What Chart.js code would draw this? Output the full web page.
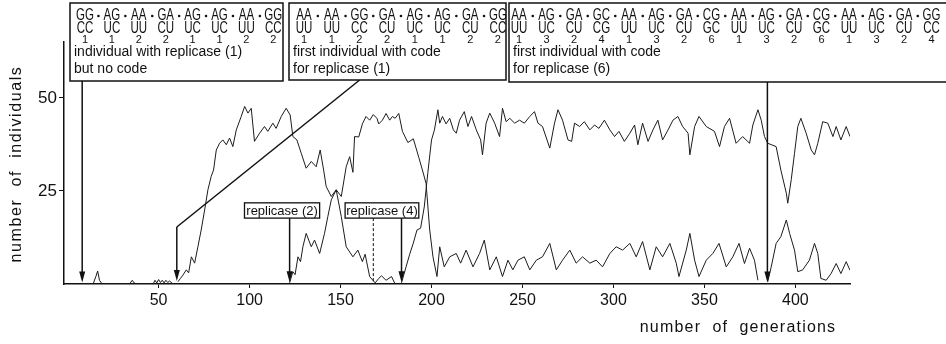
<!DOCTYPE html>
<html>
<head>
<meta charset="utf-8">
<title>Replicase code evolution</title>
<script src="https://cdn.jsdelivr.net/npm/chart.js@4.4.0/dist/chart.umd.min.js"></script>
<style>
  body { margin: 0; background: #fff; }
  #wrap { width: 946px; height: 344px; }
</style>
</head>
<body>
<div id="wrap"><canvas id="evo"></canvas></div>
<script>
// tick labels
const xTicks = [50, 100, 150, 200, 250, 300, 350, 400];
const yTicks = [25, 50];

// early blips: individual with replicase (1) but no code
const gen0 = [8, 14, 15.5, 16.5, 17.5, 19, 34, 35.5, 36.5, 38, 47, 48, 49, 50, 51, 52, 53, 54, 55, 56, 58, 60];
const val0 = [0, 0, 2, 3.5, 1, 0, 0, 1, 0.3, 0, 0, 1, 0.3, 1.2, 0.4, 1, 0.3, 1, 0.4, 0.8, 0, 0];

// first code for replicase (1)
const gen1 = [60.6, 62, 63.4, 65.2, 66.5, 68, 69.8, 71.6, 73.4, 75.3, 77.1, 78.9, 80.2, 81.7, 83.5, 85.3, 87.2, 89, 90.8, 92.7,
  95.4, 97.3, 99.1, 100.9, 102.7, 105.5, 108.2, 110, 112.8, 114.6, 117.4, 120.1, 122.3, 123.8, 126, 128.4, 131.1, 133.9, 136.6, 138.8,
  140.7, 142.1, 144.9, 147.6, 150.4, 153.1, 156.8, 159.5, 162, 163.5, 166, 169, 171, 172.5, 175, 178, 180];
const val1 = [0.6, 1.5, 2.4, 3.8, 3, 7.3, 5.6, 10, 14.5, 19.9, 25.3, 28.9, 30.6, 36, 37.8, 38.7, 37.4, 39.2, 36.9, 41.4,
  45, 47.7, 45.9, 47.2, 38.3, 40.5, 42.3, 41, 43.2, 41.8, 45, 47.2, 45.4, 39.6, 38.7, 35.1, 31.1, 32.9, 31.5, 36,
  30.6, 26.2, 23.5, 25.3, 18.1, 10, 7.3, 9.1, 6, 8, 2, 0.3, 1.5, 2.2, 1, 2, 0];

// replicase (2)
const gen2 = [122, 123.8, 125, 126.6, 128, 129.3, 131.1, 133.9, 135.7, 138.5, 141.2, 143, 144.9, 147.6, 150.4, 153.1, 155, 156.8, 157.7, 160,
  162, 164, 166, 168, 170, 171, 173, 175, 177, 178.5, 180, 182, 184, 187, 190, 193, 195, 197, 199, 200.8,
  203, 204.5, 207, 210, 213.6, 216, 219, 222.8, 226.4, 229, 232, 235.6, 239, 242, 244.7, 247.5, 251, 254, 257.6, 261,
  265, 268.6, 272, 276, 279.5, 283, 287, 290.5, 294, 298, 301.5, 305, 309, 312.5, 316, 320, 323.5, 327, 331, 334.5,
  336, 340, 342, 344.6, 347, 351, 354.6, 358, 362, 365.6, 369, 372, 374.8, 377.5, 379.4];
const val2 = [0.3, 3.3, 2.5, 7.3, 6, 10, 13.6, 10, 11.8, 8.2, 13.6, 18.1, 22.6, 25.3, 23.5, 31.5, 34.2, 30, 39.6, 39.5,
  43, 45, 44, 45.5, 44.5, 43, 44, 45.8, 44, 45, 44.5, 45.8, 41, 38, 39, 34, 30.6, 27, 14.5, 7.3,
  2, 10, 4.6, 7.3, 8.2, 5.6, 9.1, 4.6, 8.2, 11.8, 3.8, 7.3, 2, 6.4, 3.8, 6.4, 7.3, 3.8, 6.4, 7.3,
  10.9, 3.8, 6.4, 9.1, 5.6, 7.3, 5.6, 6.4, 4.6, 8.2, 10, 9.1, 10.9, 7.3, 11.4, 3.8, 10, 7.3, 10.9, 5.6,
  2, 9.1, 13.6, 6.4, 2, 6.4, 8.2, 10.9, 4.6, 7.3, 10.9, 5.5, 9.6, 6.4, 1];

// replicase (4)
const gen4 = [183.5, 186, 188, 190, 192, 194, 196, 198, 200, 201.6, 203.5, 204.5, 206, 208, 210, 212, 213.6, 215.4, 218, 220,
  222, 224.6, 227, 228, 230, 232, 234.7, 237.4, 239, 241, 243, 245.7, 248.4, 251, 254, 256.6, 258.5, 261, 265, 267.6,
  269.5, 272, 275, 277, 278.6, 281.4, 284, 287, 289.6, 292, 295, 298, 300.6, 303, 306, 309, 311.6, 313.4, 316, 319,
  321.7, 324.4, 327, 330, 332.7, 335.4, 338, 341, 342, 344.6, 347, 351, 355.5, 358.3, 361, 363.8, 367.4, 371, 374.8, 376.6,
  379.4, 381.2, 383, 384.8, 389.4, 392, 395, 395.8, 397.7, 399.5, 401.3, 403, 405.9, 408.7, 410.5, 412.3, 415, 417.8, 420.6, 422.4,
  425, 427.9, 430];
const val4 = [0.3, 4.6, 8, 11, 14.5, 15, 20.7, 30, 38.7, 41.4, 46.8, 43.2, 45, 43, 44.5, 41.4, 40.5, 44, 46.3, 42.3,
  45, 41.4, 38.7, 34.7, 43.2, 45.9, 43.2, 39.6, 47.2, 43.6, 44.5, 43.2, 44, 43.2, 45, 46.3, 43.2, 42.3, 36.5, 43.2,
  46.8, 44, 38.7, 38.3, 43.2, 42.3, 43.6, 41.4, 42.7, 41.8, 44, 41.4, 39.6, 41, 38.3, 40.5, 42.7, 37.4, 43.2, 38.3,
  41.4, 44, 38.7, 41.4, 44, 45, 42.3, 40.5, 34.7, 42.3, 45, 42.3, 41, 36.9, 42.3, 44.5, 37.8, 39.6, 37.8, 42.7,
  46.8, 44, 39.6, 37.8, 36.9, 30.6, 24.4, 21.7, 28, 35.1, 42.3, 44.5, 40.5, 36, 34.7, 37.8, 43.6, 43.2, 39.6, 42.3,
  38.7, 42.3, 39.6];

// replicase (6)
const gen6 = [384.8, 386.7, 389.4, 392, 395, 396.8, 399.5, 401.3, 404, 407.7, 410.5, 412.3, 414, 416.9, 419.6, 422.4, 425, 427.9, 430];
const val6 = [0.6, 4.6, 10.9, 12.7, 17.2, 13.6, 9.1, 3.3, 3.8, 6.4, 10.9, 8.2, 1.5, 1, 2.8, 5.5, 2.8, 6, 3.7];

// code boxes
const box1Top = ['GG', 'AG', 'AA', 'GA', 'AG', 'AG', 'AA', 'GG'];
const box1Mid = ['CC', 'UC', 'UU', 'CU', 'UC', 'UC', 'UU', 'CC'];
const box1Num = ['1', '1', '2', '2', '1', '1', '2', '2'];
const box1Text = ['individual with replicase (1)', 'but no code'];
const box2Top = ['AA', 'AA', 'GG', 'GA', 'AG', 'AG', 'GA', 'GG'];
const box2Mid = ['UU', 'UU', 'CC', 'CU', 'UC', 'UC', 'CU', 'CC'];
const box2Num = ['1', '1', '2', '2', '1', '1', '2', '2'];
const box2Text = ['first individual with code', 'for replicase (1)'];
const box3Top = ['AA', 'AG', 'GA', 'GC', 'AA', 'AG', 'GA', 'CG', 'AA', 'AG', 'GA', 'CG', 'AA', 'AG', 'GA', 'GG'];
const box3Mid = ['UU', 'UC', 'CU', 'CG', 'UU', 'UC', 'CU', 'GC', 'UU', 'UC', 'CU', 'GC', 'UU', 'UC', 'CU', 'CC'];
const box3Num = ['1', '3', '2', '4', '1', '3', '2', '6', '1', '3', '2', '6', '1', '3', '2', '4'];
const box3Text = ['first individual with code', 'for replicase (6)'];

// generations where the arrows point
const markNoCode = 8;
const markCode1 = 60;
const markRep2 = 122;
const markDashed = 168;
const markRep4 = 183.5;
const markCode6 = 384.6;

const FONT = '"Liberation Sans", Arial, sans-serif';
const INK = '#111';

function pts(g, v) {
  return g.map((x, i) => ({ x: x, y: v[i] }));
}

function line(data) {
  return { data: data, borderColor: '#1c1c1c', borderWidth: 1, pointRadius: 0, tension: 0, fill: false };
}

function condensed(ctx, text, x, y, sx) {
  ctx.save();
  ctx.translate(x, y);
  ctx.scale(sx, 1);
  ctx.fillText(text, 0, 0);
  ctx.restore();
}

function codeBox(ctx, b, top, mid, num, text) {
  ctx.fillStyle = '#fff';
  ctx.fillRect(b.left, b.top, b.right - b.left, b.bottom - b.top);
  ctx.strokeStyle = INK;
  ctx.lineWidth = 1.5;
  ctx.strokeRect(b.left, b.top, b.right - b.left, b.bottom - b.top);
  ctx.fillStyle = INK;
  ctx.textAlign = 'center';
  ctx.textBaseline = 'middle';
  top.forEach((p, i) => {
    const cx = b.col0 + i * b.step;
    ctx.font = '16px ' + FONT;
    condensed(ctx, p, cx, 16, 0.72);
    condensed(ctx, mid[i], cx, 29, 0.72);
    ctx.font = '11px ' + FONT;
    ctx.fillText(num[i], cx, 40);
    if (i < top.length - 1) {
      ctx.beginPath();
      ctx.arc(cx + b.step / 2, 16, 1.3, 0, Math.PI * 2);
      ctx.fill();
    }
  });
  ctx.textAlign = 'left';
  ctx.font = '14px ' + FONT;
  ctx.fillText(text[0], b.left + 4, 52);
  ctx.fillText(text[1], b.left + 4, 69);
}

function arrow(ctx, x, y0, y1) {
  ctx.beginPath();
  ctx.moveTo(x, y0);
  ctx.lineTo(x, y1 - 8);
  ctx.stroke();
  ctx.beginPath();
  ctx.moveTo(x, y1);
  ctx.lineTo(x - 3, y1 - 11);
  ctx.lineTo(x + 3, y1 - 11);
  ctx.closePath();
  ctx.fill();
}

function labelBox(ctx, text, x0, x1, y0, y1) {
  ctx.fillStyle = '#fff';
  ctx.fillRect(x0, y0, x1 - x0, y1 - y0);
  ctx.strokeStyle = INK;
  ctx.lineWidth = 1.3;
  ctx.strokeRect(x0, y0, x1 - x0, y1 - y0);
  ctx.fillStyle = INK;
  ctx.font = '13px ' + FONT;
  ctx.textAlign = 'center';
  ctx.textBaseline = 'middle';
  ctx.fillText(text, (x0 + x1) / 2, (y0 + y1) / 2 + 1);
}

const notes = {
  id: 'notes',
  afterDraw(chart) {
    const ctx = chart.ctx;
    const sx = chart.scales.x, sy = chart.scales.y;
    const X = v => sx.getPixelForValue(v);
    const Y = v => sy.getPixelForValue(v);
    ctx.save();
    ctx.strokeStyle = INK;
    ctx.fillStyle = INK;
    ctx.lineWidth = 1.5;

    // arrows from the code boxes
    arrow(ctx, X(markNoCode), 81, Y(0.4));
    arrow(ctx, X(markCode6), 82, Y(0.4));
    ctx.beginPath();
    ctx.moveTo(X(160.5), 80);
    ctx.lineTo(X(markCode1), Y(15.3));
    ctx.stroke();
    arrow(ctx, X(markCode1), Y(15.3), Y(0.8));

    // replicase (2)
    arrow(ctx, X(markRep2), Y(17.7), Y(0.5));
    labelBox(ctx, 'replicase (2)', X(97.2), X(138.5), Y(21.8), Y(17.7));

    // replicase (4) with dashed companion
    ctx.strokeStyle = INK;
    ctx.fillStyle = INK;
    ctx.lineWidth = 1.5;
    arrow(ctx, X(markRep4), Y(17.7), Y(0.5));
    ctx.save();
    ctx.lineWidth = 1;
    ctx.setLineDash([3, 2]);
    ctx.beginPath();
    ctx.moveTo(X(markDashed), Y(17.7));
    ctx.lineTo(X(markDashed), Y(0.3));
    ctx.stroke();
    ctx.restore();
    labelBox(ctx, 'replicase (4)', X(152.5), X(193), Y(21.8), Y(17.7));

    // code boxes on top
    codeBox(ctx, { left: 70, right: 283, top: 3, bottom: 81, col0: 85, step: 26.9 }, box1Top, box1Mid, box1Num, box1Text);
    codeBox(ctx, { left: 289, right: 506, top: 3, bottom: 80, col0: 304, step: 27.7 }, box2Top, box2Mid, box2Num, box2Text);
    codeBox(ctx, { left: 509, right: 952, top: 3, bottom: 82, col0: 519, step: 27.5 }, box3Top, box3Mid, box3Num, box3Text);

    // axis titles
    ctx.fillStyle = INK;
    ctx.font = '16px ' + FONT;
    ctx.textAlign = 'center';
    ctx.textBaseline = 'middle';
    ctx.letterSpacing = '1.2px';
    ctx.fillText('number  of  generations', 738, 328);
    ctx.save();
    ctx.translate(17, 164);
    ctx.rotate(-Math.PI / 2);
    ctx.letterSpacing = '1.6px';
    ctx.fillText('number  of  individuals', 0, 0);
    ctx.restore();
    ctx.restore();
  }
};

new Chart(document.getElementById('evo'), {
  type: 'line',
  data: {
    datasets: [line(pts(gen0, val0)), line(pts(gen1, val1)), line(pts(gen2, val2)), line(pts(gen4, val4)), line(pts(gen6, val6))]
  },
  options: {
    responsive: true,
    maintainAspectRatio: false,
    animation: false,
    layout: { padding: { left: 0, right: 96, top: 42, bottom: 0 } },
    plugins: { legend: { display: false }, tooltip: { enabled: false } },
    scales: {
      x: {
        type: 'linear', min: -2, max: 430,
        afterBuildTicks: s => { s.ticks = xTicks.map(v => ({ value: v })); },
        afterFit: s => { s.height = 60; },
        ticks: { font: { family: FONT, size: 16 }, color: INK, padding: 3, maxRotation: 0, autoSkip: false },
        grid: { drawOnChartArea: false, tickLength: 4, color: INK },
        border: { color: INK, width: 1.5 }
      },
      y: {
        min: 0, max: 65,
        afterBuildTicks: s => { s.ticks = yTicks.map(v => ({ value: v })); },
        afterFit: s => { s.width = 64; },
        ticks: { font: { family: FONT, size: 17 }, color: INK, padding: 2 },
        grid: { drawOnChartArea: false, tickLength: 5, color: INK },
        border: { color: INK, width: 1.5 }
      }
    }
  },
  plugins: [notes]
});
</script>
</body>
</html>
